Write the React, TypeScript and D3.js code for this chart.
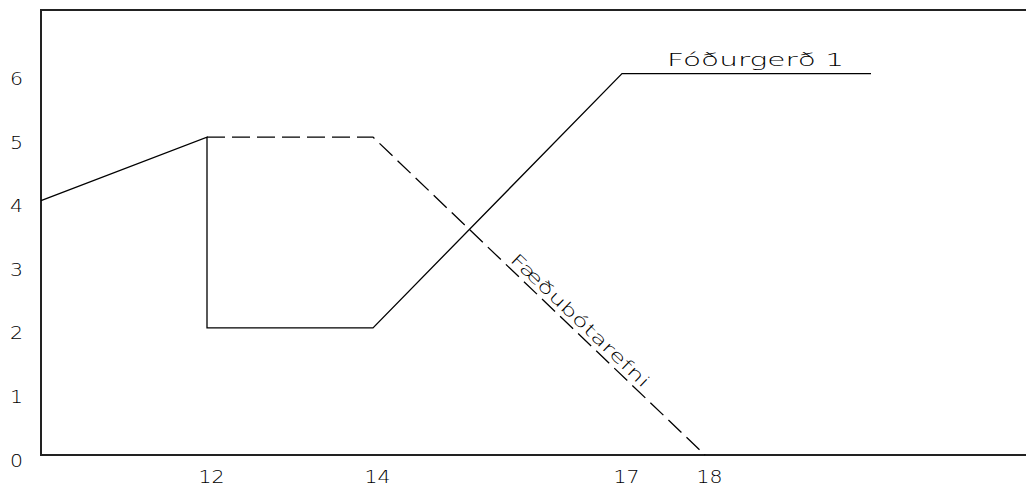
import React from "react";
import * as d3 from "d3";

const yTicks = [0, 1, 2, 3, 4, 5, 6];
const xTickLabels = [12, 14, 17, 18];

const feedX = [10, 12, 12, 14, 17, 20];
const feedY = [4, 5, 2, 2, 6, 6];
const feedName = "Fóðurgerð 1";

const suppX = [12, 14, 18];
const suppY = [5, 5, 0];
const suppName = "Fæðubótarefni";

const W = 1026;
const H = 487;
const FONT = "'DejaVu Sans', sans-serif";
const WEIGHT = 200;

export default function App() {
  const x = d3.scaleLinear().domain([10, 22]).range([41, 41 + 12 * 83]);
  const y = d3.scaleLinear().domain([0, 7]).range([455, 10]);
  const line = d3
    .line<[number, number]>()
    .x((d) => x(d[0]))
    .y((d) => y(d[1]));
  const feed: [number, number][] = feedX.map((v, i) => [v, feedY[i]]);
  const supp: [number, number][] = suppX.map((v, i) => [v, suppY[i]]);

  // label along dashed segment (14,5)->(18,0)
  const lx = 15.6;
  const ly = 5 - ((lx - 14) * 5) / 4;
  const ang = (Math.atan2(y(0) - y(5), x(18) - x(14)) * 180) / Math.PI;
  const px = x(lx);
  const py = y(ly);
  const rad = (ang * Math.PI) / 180;
  const off = 5;
  const tx = px + Math.sin(rad) * off;
  const ty = py - Math.cos(rad) * off;

  return (
    <svg
      width={W}
      height={H}
      style={{ position: "absolute", left: 0, top: 0, background: "#fff" }}
    >
      <rect x={0} y={0} width={W} height={H} fill="#fff" />
      <line x1={x(10)} y1={y(7)} x2={W} y2={y(7)} stroke="#222" strokeWidth={2} />
      <line x1={x(10)} y1={y(0)} x2={W} y2={y(0)} stroke="#222" strokeWidth={2} />
      <line x1={x(10)} y1={y(7) - 1} x2={x(10)} y2={y(0) + 1} stroke="#222" strokeWidth={2} />

      {yTicks.map((t) => (
        <text
          key={"y" + t}
          x={10}
          y={y(t) + 11.5}
          fontFamily={FONT}
          fontWeight={WEIGHT}
          fontSize={18}
          textLength={13}
          lengthAdjust="spacingAndGlyphs"
          fill="#000"
        >
          {t}
        </text>
      ))}
      {xTickLabels.map((t) => (
        <text
          key={"x" + t}
          x={x(t) + 4.5}
          y={483}
          textAnchor="middle"
          fontFamily={FONT}
          fontWeight={WEIGHT}
          fontSize={18}
          textLength={26}
          lengthAdjust="spacingAndGlyphs"
          fill="#000"
        >
          {t}
        </text>
      ))}

      <path d={line(feed) || ""} fill="none" stroke="#000" strokeWidth={1.3} />
      <path
        d={line(supp) || ""}
        fill="none"
        stroke="#000"
        strokeWidth={1.3}
        strokeDasharray="18,7"
      />

      <text
        x={667}
        y={65.5}
        fontFamily={FONT}
        fontWeight={WEIGHT}
        fontSize={17}
        textLength={177}
        lengthAdjust="spacingAndGlyphs"
        fill="#000"
      >
        {feedName}
      </text>
      <text
        x={0}
        y={0}
        transform={`translate(${tx},${ty}) rotate(${ang})`}
        fontFamily={FONT}
        fontWeight={WEIGHT}
        fontSize={17}
        textLength={185}
        lengthAdjust="spacingAndGlyphs"
        fill="#000"
      >
        {suppName}
      </text>
    </svg>
  );
}
